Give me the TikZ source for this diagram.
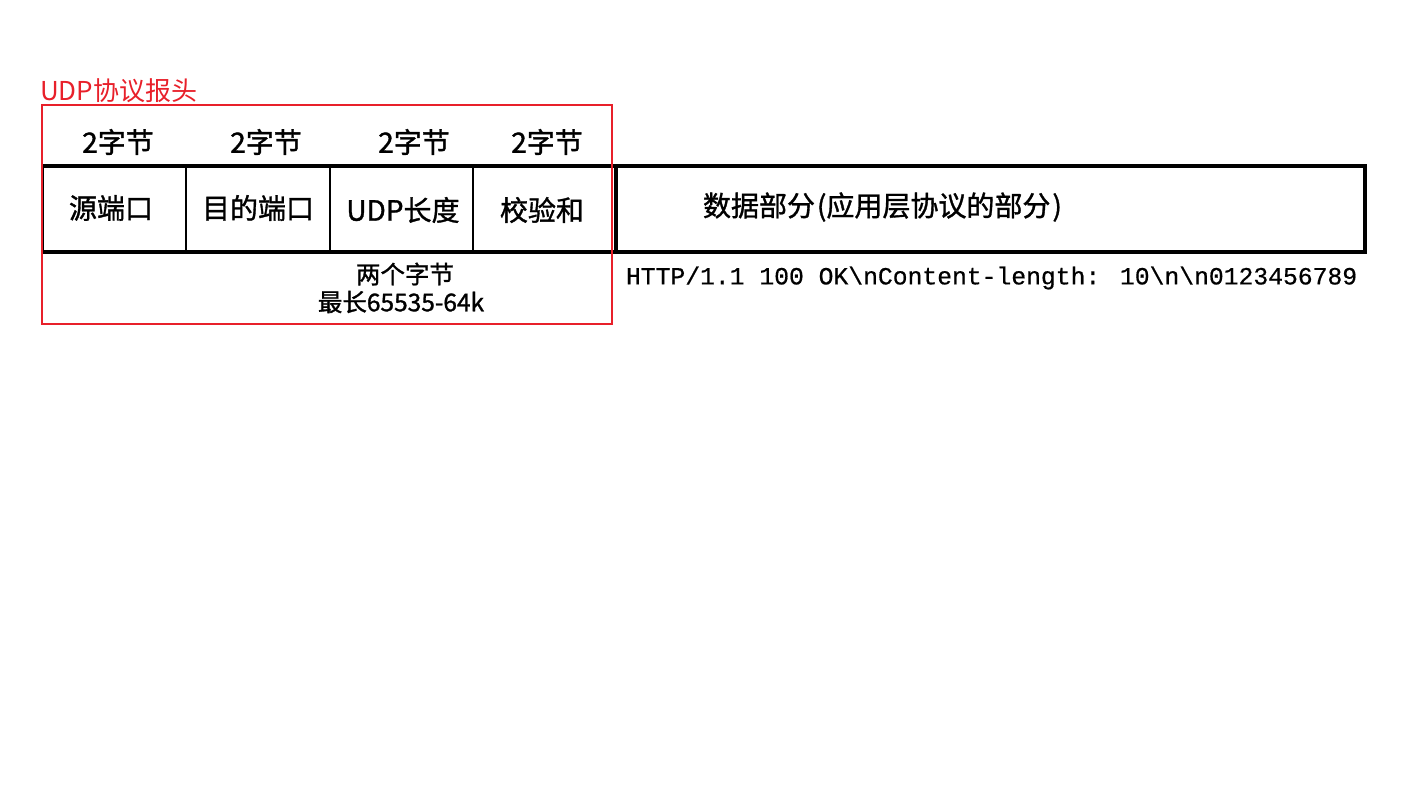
\documentclass[tikz,border=0pt]{standalone}
\usepackage{fontspec}
\setmainfont{Noto Sans CJK SC}
\newfontfamily\medf[FakeBold=1.2]{Noto Sans CJK SC}
\newfontfamily\monof[FakeBold=0.6]{Liberation Mono}
\definecolor{udpred}{HTML}{E8202A}
\begin{document}
\begin{tikzpicture}[x=1pt,y=-1pt,outer sep=0pt,
  cell/.style={draw=none,minimum height=86pt,inner sep=0pt,anchor=north west},
  lbl/.style={font=\medf\fontsize{28}{30}\selectfont,inner sep=0pt},
  small/.style={font=\medf\fontsize{24.5}{26}\selectfont,inner sep=0pt},
  thickline/.style={line width=4pt},
  thinline/.style={line width=2pt}]
\useasboundingbox (0,0) rectangle (1408,811);
% header cells
\node[cell,minimum width=143pt] (c1) at (43,166) {};
\node[cell,minimum width=144pt] (c2) at (186,166) {};
\node[cell,minimum width=143pt] (c3) at (330,166) {};
\node[cell,minimum width=141pt] (c4) at (473,166) {};
\draw[thickline] (c1.north west) -- (c4.north east);
\draw[thickline] (c1.south west) -- (c4.south east);
\draw[thinline] (c1.north west) -- (c1.south west);
\draw[thinline] (c2.north west) -- (c2.south west);
\draw[thinline] (c3.north west) -- (c3.south west);
\draw[thinline] (c4.north west) -- (c4.south west);
% data box
\node[draw,thickline,minimum width=749pt,minimum height=86pt,inner sep=0pt,outer sep=0pt,anchor=north west] (data) at (616,166) {};
% labels in cells
\node[lbl] (l1) at (111,208) {源端口};
\node[lbl] (l2) at (258,208) {目的端口};
\node[lbl] (l3) at (403,210) {UDP长度};
\node[lbl] (l4) at (542,210) {校验和};
\node[lbl,anchor=west] (dl) at (703,207) {数据部分\kern2pt(应用层协议的部分\kern2pt)};
% byte labels
\node[lbl] (b1) at (118,142) {2字节};
\node[lbl] (b2) at (266,142) {2字节};
\node[lbl] (b3) at (414,142) {2字节};
\node[lbl] (b4) at (547,142) {2字节};
% red header frame
\node[draw=udpred,line width=2pt,minimum width=570pt,minimum height=219pt,inner sep=0pt,outer sep=0pt,anchor=north west] (hdr) at (42,105) {};
\node[text=udpred,anchor=west,inner sep=0pt,font=\fontsize{26}{28}\selectfont] (title) at (40,91) {UDP协议报头};
% notes
\node[small] (n1) at (405,274) {两个字节};
\node[small] (n2) at (401,302) {最长65535-64k};
\node[inner sep=0pt,anchor=west,font=\monof\fontsize{24.7}{26}\selectfont] (http) at (626,278) {HTTP/1.1 100 OK\textbackslash nContent-length: 10\textbackslash n\textbackslash n0123456789};
\end{tikzpicture}
\end{document}
